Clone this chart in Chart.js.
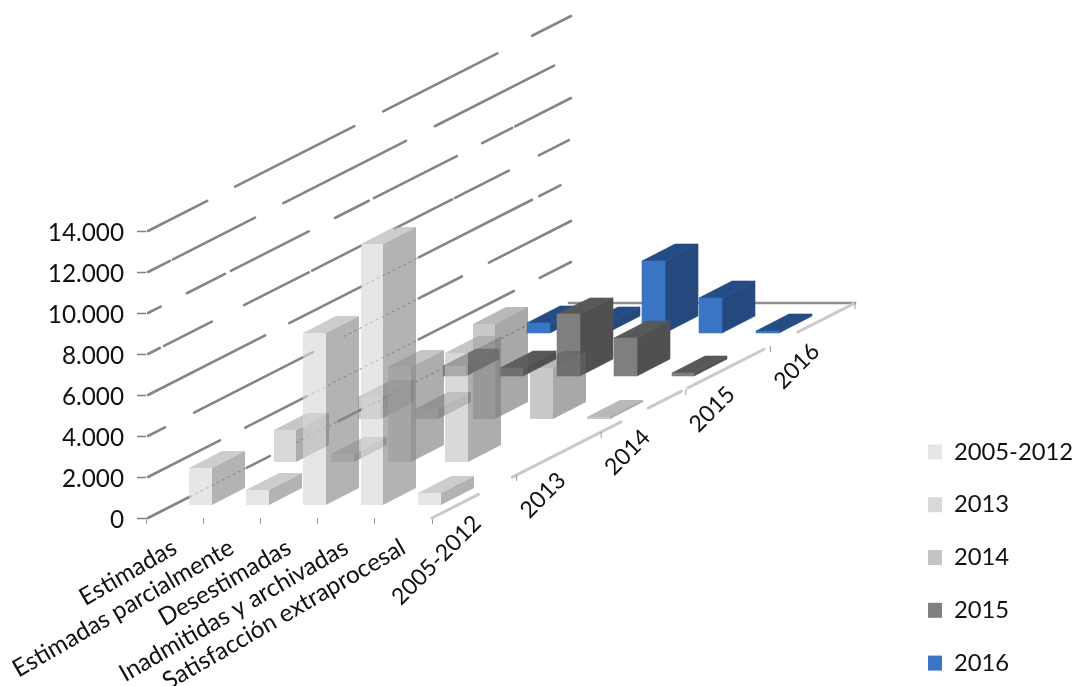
<!DOCTYPE html>
<html>
<head>
<meta charset="utf-8">
<title>Chart</title>
<script src="https://cdn.jsdelivr.net/npm/chart.js@4"></script>
<style>
  html, body { margin: 0; padding: 0; background: #fff; overflow: hidden; }
</style>
</head>
<body>
<canvas id="myChart" width="1073" height="686"></canvas>
<script>
const categories = ['Estimadas', 'Estimadas parcialmente', 'Desestimadas', 'Inadmitidas y archivadas', 'Satisfacción extraprocesal'];
const seriesNames = ['2005-2012', '2013', '2014', '2015', '2016'];

const values2005 = [1800, 730, 8390, 12730, 600];
const values2013 = [1560, 400, 4630, 5300, 0];
const values2014 = [1070, 490, 4630, 2490, 100];
const values2015 = [500, 400, 3000, 1850, 150];
const values2016 = [490, 440, 3500, 1700, 100];
const seriesValues = [values2005, values2013, values2014, values2015, values2016];

// faces of the 3d bars, translucent like the original
const legendColors = ['#e6e6e6', '#d9d9d9', '#c4c4c4', '#7f7f7f', '#3a75c5'];
const frontColors = ['rgba(216,216,216,.63)', 'rgba(195,195,195,.63)', 'rgba(100,100,100,.35)', 'rgb(127,127,127)', 'rgb(58,117,197)'];
const sideColors = ['rgba(135,135,135,.63)', 'rgba(125,125,125,.63)', 'rgba(100,100,100,.56)', 'rgb(80,80,80)', 'rgb(37,73,127)'];
const topColors = ['rgba(176,176,176,.63)', 'rgba(165,165,165,.63)', 'rgba(80,80,80,.4)', 'rgb(88,88,88)', 'rgb(36,76,133)'];

// depth direction of the floor, in pixels
const depthX = 423;
const depthY = 215;

// the wall lines of the original are broken up, these are the visible stretches
// a third item marks a stretch that only shows faintly through a bar
const wallSegments = [
  [[0, .1], [.1, .234, 1], [.234, .288], [.352, .45, 1], [.45, .506], [.506, .905, 1]],
  [[0, .17], [.23, .375], [.375, .64, 1], [.64, .865], [.926, 1]],
  [[0, .04], [.109, .39], [.463, .64, 1], [.64, .742], [.806, 1]],
  [[0, .277], [.334, .504], [.504, .64, 1], [.64, .908], [.925, .975]],
  [[0, .028], [.038, .151], [.227, .38], [.388, .504], [.584, .719], [.726, .853], [.924, .995]],
  [[0, .03], [.092, .182], [.196, .38], [.442, .522], [.534, .73], [.79, .861], [.868, 1]],
  [[0, .052], [.059, .253], [.32, .335], [.339, .61], [.678, .96]],
  [[0, .14], [.206, .488], [.556, .826], [.908, 1]]
];
const edgeSegments = [[0, .11], [.19, .447], [.511, .59], [.605, .785], [.865, .997]];

function polygon(ctx, points, color) {
  ctx.fillStyle = color;
  ctx.beginPath();
  points.forEach(function (p, i) {
    if (i === 0) ctx.moveTo(Math.round(p[0]), Math.round(p[1]));
    else ctx.lineTo(Math.round(p[0]), Math.round(p[1]));
  });
  ctx.closePath();
  ctx.fill();
  // solid faces get a hairline so no seam shows between them
  if (color.indexOf('rgb(') === 0) {
    ctx.strokeStyle = color;
    ctx.lineWidth = .6;
    ctx.stroke();
  }
}

function depthFraction(chart, value) {
  const z = chart.scales.z;
  return (z.getPixelForValue(value) - z.left) / z.width;
}

const bars3d = {
  id: 'bars3d',
  afterLayout(chart) {
    const legend = chart.legend;
    legend.left = 899;
    legend.right = 1073;
    legend.top = 411;
    legend.bottom = 800;
  },
  beforeDraw(chart) {
    // value labels sit a little under their tick marks in the original
    const y = chart.scales.y;
    if (y.nudged) return;
    y.nudged = true;
    y.getLabelItems(chart.chartArea).forEach(function (item) {
      const t = item.options.translation;
      item.options.translation = [t[0], t[1] + 2];
    });
  },
  beforeDatasetsDraw(chart) {
    const ctx = chart.ctx;
    const x = chart.scales.x;
    const y = chart.scales.y;
    ctx.save();
    ctx.lineCap = 'round';

    // left wall
    y.ticks.forEach(function (tick, i) {
      const py = y.getPixelForValue(tick.value);
      wallSegments[i].forEach(function (s) {
        ctx.strokeStyle = s[2] ? '#9a9a9a' : '#858585';
        ctx.lineWidth = s[2] ? 1.2 : 2.6;
        ctx.setLineDash(s[2] ? [2, 4] : []);
        ctx.beginPath();
        ctx.moveTo(x.left + 2 + s[0] * depthX, py - s[0] * depthY);
        ctx.lineTo(x.left + 2 + s[1] * depthX, py - s[1] * depthY);
        ctx.stroke();
      });
    });
    ctx.setLineDash([]);

    // back edge of the floor
    const y0 = y.getPixelForValue(0);
    ctx.strokeStyle = '#8f8f8f';
    ctx.lineWidth = 2.6;
    ctx.beginPath();
    ctx.moveTo(x.left + depthX, y0 - depthY);
    ctx.lineTo(x.right + depthX, y0 - depthY);
    ctx.stroke();

    // right edge of the floor
    ctx.strokeStyle = '#cacaca';
    ctx.lineWidth = 3;
    edgeSegments.forEach(function (s) {
      ctx.beginPath();
      ctx.moveTo(x.right + s[0] * depthX, y0 - s[0] * depthY);
      ctx.lineTo(x.right + s[1] * depthX, y0 - s[1] * depthY);
      ctx.stroke();
    });

    // depth ticks and labels
    ctx.lineCap = 'butt';
    seriesNames.forEach(function (name, i) {
      const f = depthFraction(chart, i + .5);
      ctx.strokeStyle = '#999';
      ctx.lineWidth = 1;
      ctx.beginPath();
      ctx.moveTo(x.right + f * depthX, y0 - f * depthY);
      ctx.lineTo(x.right + f * depthX, y0 - f * depthY + 6);
      ctx.stroke();
      const mid = depthFraction(chart, i);
      ctx.save();
      ctx.translate(x.right + mid * depthX + 3, y0 - mid * depthY + 23);
      ctx.rotate(-Math.PI / 4);
      ctx.fillStyle = '#111';
      ctx.font = '23px Lato';
      ctx.textAlign = 'right';
      ctx.textBaseline = 'middle';
      ctx.fillText(name, 0, 0);
      ctx.restore();
    });

    // bars, furthest series first
    for (let i = seriesValues.length - 1; i >= 0; i--) {
      const near = depthFraction(chart, i - .195);
      const far = depthFraction(chart, i + .195);
      seriesValues[i].forEach(function (value, j) {
        if (!value) return;
        const left = x.getPixelForValue(j - .2);
        const right = x.getPixelForValue(j + .2);
        const bottom = y.getPixelForValue(0);
        const top = y.getPixelForValue(value);
        const nx = near * depthX, ny = near * depthY;
        const fx = far * depthX, fy = far * depthY;
        polygon(ctx, [[right + nx, bottom - ny], [right + fx, bottom - fy], [right + fx, top - fy], [right + nx, top - ny]], sideColors[i]);
        polygon(ctx, [[left + nx, top - ny], [right + nx, top - ny], [right + fx, top - fy], [left + fx, top - fy]], topColors[i]);
        polygon(ctx, [[left + nx, bottom - ny], [right + nx, bottom - ny], [right + nx, top - ny], [left + nx, top - ny]], frontColors[i]);
      });
    }
    ctx.restore();
    return false;
  }
};

const data = {
  labels: categories,
  datasets: seriesNames.map(function (name, i) {
    return { label: name, data: seriesValues[i], backgroundColor: legendColors[i], borderWidth: 0 };
  })
};

const config = {
  type: 'bar',
  data: data,
  plugins: [bars3d],
  options: {
    responsive: false,
    animation: false,
    layout: { padding: { top: 231, right: 491, left: 0, bottom: 0 } },
    plugins: {
      title: { display: false },
      tooltip: { enabled: false },
      legend: {
        position: 'right',
        align: 'start',
        maxWidth: 150,
        labels: {
          boxWidth: 14,
          boxHeight: 15,
          padding: 29,
          color: '#111',
          font: { family: 'Lato', size: 23.8 }
        }
      }
    },
    scales: {
      x: {
        offset: true,
        afterFit: function (scale) { scale.height = 168; },
        border: { display: false },
        grid: { offset: true, drawOnChartArea: false, tickLength: 6, tickColor: '#999', tickWidth: 1 },
        ticks: {
          autoSkip: false,
          minRotation: 30,
          maxRotation: 30,
          padding: 9,
          color: '#111',
          font: { family: 'Lato', size: 24.3 }
        }
      },
      z: {
        type: 'category',
        axis: 'x',
        labels: seriesNames,
        offset: true,
        display: false
      },
      y: {
        min: 0,
        max: 14000,
        afterFit: function (scale) { scale.width = 146; },
        border: { display: false },
        grid: { drawOnChartArea: false, tickLength: 9, tickColor: '#808080', tickWidth: 1.5 },
        ticks: {
          stepSize: 2000,
          padding: 13,
          color: '#111',
          font: { family: 'Lato', size: 24.3 },
          callback: function (value) {
            return String(value).replace(/\B(?=(\d{3})+$)/g, '.');
          }
        }
      }
    }
  }
};

const myChart = new Chart(document.getElementById('myChart'), config);
</script>
</body>
</html>
